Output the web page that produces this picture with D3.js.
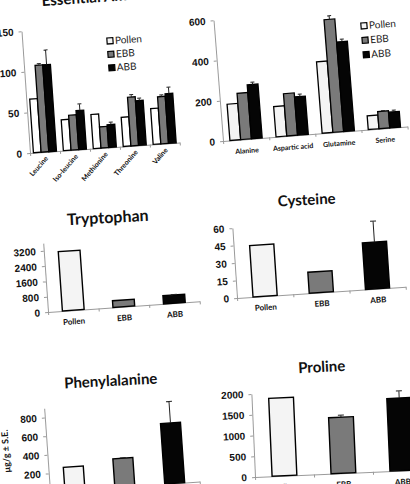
<!DOCTYPE html>
<html>
<head>
<meta charset="utf-8">
<script src="https://d3js.org/d3.v7.min.js"></script>
<style>
    body { margin: 0; background: #fff; }
    svg { font-family: Lato, "Open Sans", sans-serif; }
    .yaxis .tick text { font-weight: bold; fill: #111; font-size: 10px; }
    .yaxis path, .yaxis line, .xaxis path, .xaxis line { stroke: #9a9a9a; }
    .cat { font-weight: bold; fill: #111; }
    .title { font-weight: bold; fill: #111; }
    .legend text { font-size: 10px; fill: #222; }
</style>
</head>
<body>
<div id="chart"></div>
<script>
    // series shared by all six panels
    var series = ["Pollen", "EBB", "ABB"];
    var colors = ["#f4f4f4", "#7a7a7a", "#050505"];

    // Essential amino acids
    var essentialNames = ["Leucine", "Iso-leucine", "Methionine", "Threonine", "Valine"];
    var essentialPollen = [66, 38, 42, 36, 44];
    var essentialEBB = [107, 43, 26, 60, 58];
    var essentialABB = [107, 48, 28, 55, 61];
    var essentialErrEBB = [2, 0, 0, 3, 2];
    var essentialErrABB = [18, 8, 3, 3, 8];
    var essentialTicks = [0, 50, 100, 150];

    // Non essential amino acids
    var nonEssNames = ["Alanine", "Aspartic acid", "Glutamine", "Serine"];
    var nonEssPollen = [180, 150, 355, 68];
    var nonEssEBB = [230, 210, 560, 85];
    var nonEssABB = [268, 190, 445, 78];
    var nonEssErrEBB = [0, 0, 18, 3];
    var nonEssErrABB = [12, 12, 12, 8];
    var nonEssTicks = [0, 200, 400, 600];

    // single amino acids
    var tryptophan = [3100, 350, 430];
    var tryptophanErr = [0, 0, 20];
    var tryptophanTicks = [0, 800, 1600, 2400, 3200];

    var cysteine = [44, 18, 40];
    var cysteineErr = [0, 0, 18];
    var cysteineTicks = [0, 15, 30, 45, 60];

    var phenylalanine = [254, 306, 648];
    var phenylalanineErr = [0, 5, 230];
    var phenylalanineTicks = [0, 200, 400, 600, 800];

    var proline = [1880, 1350, 1750];
    var prolineErr = [0, 50, 170];
    var prolineTicks = [0, 500, 1000, 1500, 2000];

    var svg = d3.select("#chart").append("svg")
        .attr("width", 410)
        .attr("height", 484);

    var fmt = d3.format("d");

    // the figure is a slightly tilted photo, so every panel is rotated a little
    function panel(o) {
        var g = svg.append("g")
            .attr("transform", "translate(" + o.x + "," + o.y + ") rotate(" + o.rot + ")");

        var y = d3.scaleLinear().domain([0, o.max]).range([0, -o.h]);
        var x0 = d3.scaleBand().domain(o.cats).range([0, o.w])
            .paddingInner(o.pad).paddingOuter(o.pad / 2);

        // x axis with ticks between categories
        var xl = d3.scaleLinear().domain([0, o.cats.length]).range([0, o.w]);
        g.append("g").attr("class", "xaxis")
            .call(d3.axisBottom(xl).ticks(o.cats.length).tickSize(3).tickSizeOuter(0).tickFormat(""));

        g.append("g").attr("class", "yaxis")
            .call(d3.axisLeft(y).tickValues(o.ticks).tickFormat(fmt).tickSize(3).tickSizeOuter(0).tickPadding(5));

        var bars = [];
        o.cats.forEach(function (c, i) {
            o.groups.forEach(function (s, j) {
                bars.push({ cat: c, s: s.name, v: s.values[i], e: s.err[i], color: s.color });
            });
        });

        var x1 = d3.scaleBand().domain(o.groups.map(function (s) { return s.name; }))
            .range([0, x0.bandwidth()]);

        g.selectAll(".bar")
            .data(bars)
            .enter()
            .append("rect")
            .attr("class", "bar")
            .attr("x", function (d) { return x0(d.cat) + x1(d.s); })
            .attr("width", x1.bandwidth())
            .attr("y", function (d) { return y(d.v); })
            .attr("height", function (d) { return y(0) - y(d.v); })
            .attr("fill", function (d) { return d.color; })
            .attr("stroke", "#000")
            .attr("stroke-width", 1.3);

        var eb = bars.filter(function (d) { return d.e > 0; });
        var cx = function (d) { return x0(d.cat) + x1(d.s) + x1.bandwidth() / 2; };
        g.selectAll(".err")
            .data(eb)
            .enter()
            .append("path")
            .attr("class", "err")
            .attr("fill", "none")
            .attr("stroke", "#222")
            .attr("stroke-width", 1)
            .attr("d", function (d) {
                var top = y(d.v + d.e);
                return "M" + cx(d) + "," + y(d.v) + "V" + top + "M" + (cx(d) - 2) + "," + top + "H" + (cx(d) + 2);
            });

        // category labels
        var lab = g.selectAll(".cat")
            .data(o.cats)
            .enter()
            .append("text")
            .attr("class", "cat")
            .style("font-size", o.catSize + "px");
        if (o.slanted) {
            lab.attr("text-anchor", "end")
                .attr("transform", function (d) {
                    return "translate(" + (x0(d) + x0.bandwidth() / 2 + 3) + ",7) rotate(-45)";
                })
                .text(function (d) { return d; });
        } else {
            lab.attr("text-anchor", "middle")
                .attr("x", function (d) { return x0(d) + x0.bandwidth() / 2; })
                .attr("y", o.catY)
                .text(function (d) { return d; });
        }
        return g;
    }

    function legend(x, y, rot, gap) {
        var lg = svg.append("g").attr("class", "legend")
            .attr("transform", "translate(" + x + "," + y + ") rotate(" + rot + ")");
        series.forEach(function (s, i) {
            lg.append("rect")
                .attr("x", 0).attr("y", i * gap - 3)
                .attr("width", 6).attr("height", 6)
                .attr("fill", colors[i]).attr("stroke", "#000").attr("stroke-width", 1.2);
            lg.append("text")
                .attr("x", 8).attr("y", i * gap + 3.5)
                .text(s);
        });
    }

    function title(txt, x, y, size, rot, anchor) {
        svg.append("text")
            .attr("class", "title")
            .attr("text-anchor", anchor || "middle")
            .attr("transform", "translate(" + x + "," + y + ") rotate(" + rot + ")")
            .style("font-size", size + "px")
            .text(txt);
    }

    // single-series panels: categories are the series themselves
    function singlePanel(o, values, err) {
        var g = svg.append("g")
            .attr("transform", "translate(" + o.x + "," + o.y + ") rotate(" + o.rot + ")");
        var y = d3.scaleLinear().domain([0, o.max]).range([0, -o.h]);
        var x = d3.scaleBand().domain(series).range([0, o.w])
            .paddingInner(o.pad).paddingOuter(o.pad / 2);
        var xl = d3.scaleLinear().domain([0, series.length]).range([0, o.w]);
        g.append("g").attr("class", "xaxis")
            .call(d3.axisBottom(xl).ticks(series.length).tickSize(3).tickSizeOuter(0).tickFormat(""));
        g.append("g").attr("class", "yaxis")
            .call(d3.axisLeft(y).tickValues(o.ticks).tickFormat(fmt).tickSize(3).tickSizeOuter(0).tickPadding(5));

        var rows = series.map(function (s, i) { return { s: s, v: values[i], e: err[i], c: colors[i] }; });
        g.selectAll(".bar")
            .data(rows)
            .enter()
            .append("rect")
            .attr("x", function (d) { return x(d.s); })
            .attr("width", x.bandwidth())
            .attr("y", function (d) { return y(d.v); })
            .attr("height", function (d) { return y(0) - y(d.v); })
            .attr("fill", function (d) { return d.c; })
            .attr("stroke", "#000")
            .attr("stroke-width", 1.4);
        g.selectAll(".err")
            .data(rows.filter(function (d) { return d.e > 0; }))
            .enter()
            .append("path")
            .attr("fill", "none")
            .attr("stroke", "#222")
            .attr("stroke-width", 1)
            .attr("d", function (d) {
                var c = x(d.s) + x.bandwidth() / 2, top = y(d.v + d.e);
                return "M" + c + "," + y(d.v) + "V" + top + "M" + (c - 3) + "," + top + "H" + (c + 3);
            });
        g.selectAll(".cat")
            .data(series)
            .enter()
            .append("text")
            .attr("class", "cat")
            .style("font-size", "8px")
            .attr("text-anchor", "middle")
            .attr("x", function (d) { return x(d) + x.bandwidth() / 2; })
            .attr("y", 14)
            .text(function (d) { return d; });
    }

    // ---- Essential amino acids
    panel({
        x: 30, y: 153, rot: -4, w: 150, h: 122, max: 150, pad: 0.23,
        cats: essentialNames, ticks: essentialTicks, slanted: true, catSize: 7,
        groups: [
            { name: "Pollen", values: essentialPollen, err: [0, 0, 0, 0, 0], color: "#ffffff" },
            { name: "EBB", values: essentialEBB, err: essentialErrEBB, color: colors[1] },
            { name: "ABB", values: essentialABB, err: essentialErrABB, color: colors[2] }
        ]
    });
    title("Essential Amino acids", 42, 6, 15, -4, "start");
    legend(107, 41, -4, 13.5);

    // ---- Non essential amino acids
    panel({
        x: 223, y: 141, rot: -4.5, w: 185, h: 121, max: 600, pad: 0.3,
        cats: nonEssNames, ticks: nonEssTicks, slanted: false, catSize: 7, catY: 14,
        groups: [
            { name: "Pollen", values: nonEssPollen, err: [0, 0, 0, 0], color: colors[0] },
            { name: "EBB", values: nonEssEBB, err: nonEssErrEBB, color: colors[1] },
            { name: "ABB", values: nonEssABB, err: nonEssErrABB, color: colors[2] }
        ]
    });
    legend(361, 26, -4.5, 14.5);

    // ---- Tryptophan
    singlePanel({ x: 48, y: 312, rot: -4, w: 152, h: 69, max: 3600, pad: 0.57, ticks: tryptophanTicks },
        tryptophan, tryptophanErr);
    title("Tryptophan", 108, 223, 16, -3);

    // ---- Cysteine
    singlePanel({ x: 237, y: 298, rot: -3.8, w: 169, h: 70, max: 60, pad: 0.57, ticks: cysteineTicks },
        cysteine, cysteineErr);
    title("Cysteine", 307, 205, 15, -3);

    // ---- Phenylalanine
    singlePanel({ x: 50, y: 492, rot: -4, w: 150, h: 84, max: 900, pad: 0.6, ticks: phenylalanineTicks },
        phenylalanine, phenylalanineErr);
    title("Phenylalanine", 111, 386, 15, -3);

    // ---- Proline
    singlePanel({ x: 255, y: 477, rot: -2.5, w: 177, h: 83, max: 2000, pad: 0.58, ticks: prolineTicks },
        proline, prolineErr);
    title("Proline", 322, 372, 15, -3);

    // shared y label
    svg.append("text")
        .attr("class", "title")
        .attr("text-anchor", "middle")
        .attr("transform", "translate(9,451) rotate(-94)")
        .style("font-size", "9px")
        .text("µg/g ± S.E.");
</script>
</body>
</html>
